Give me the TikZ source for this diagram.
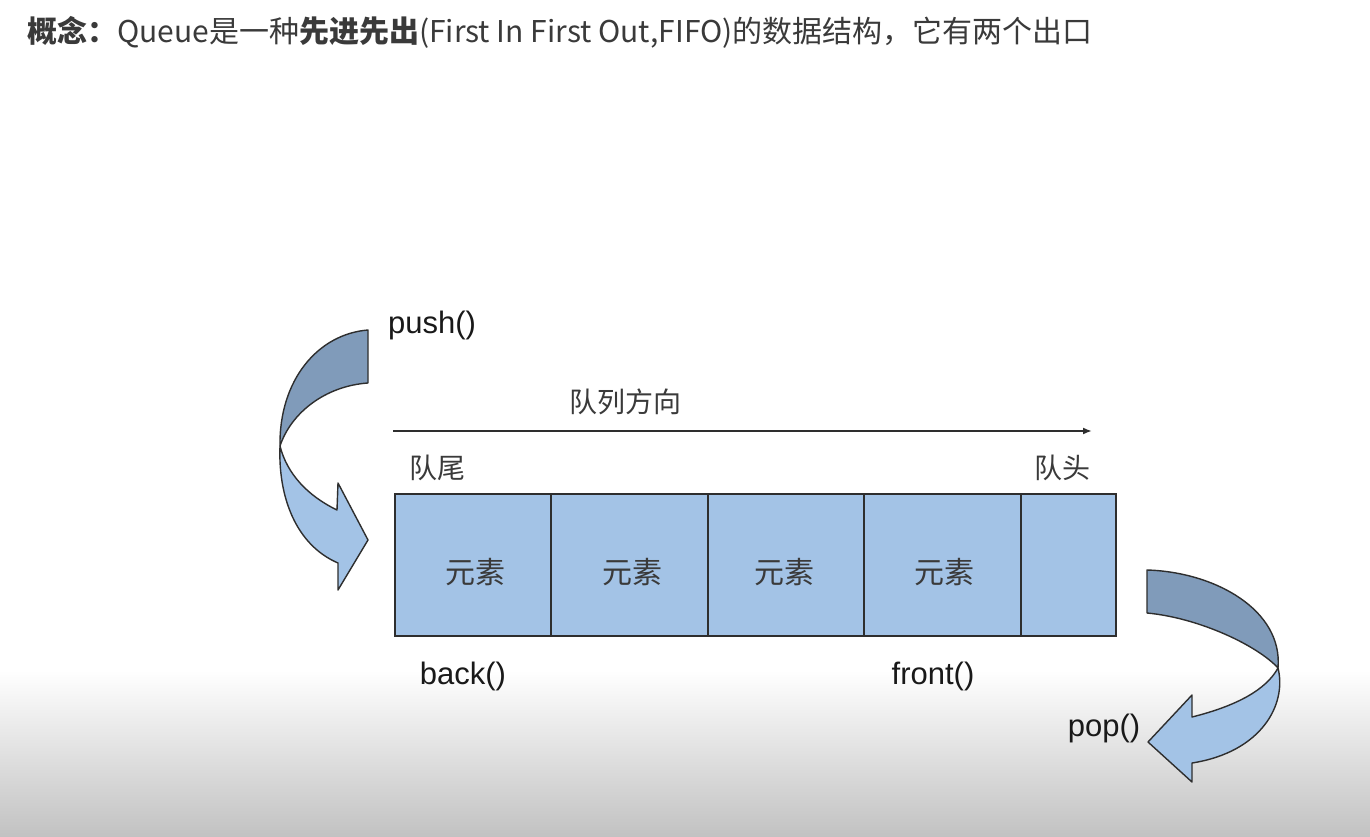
\documentclass[tikz,border=0pt]{standalone}
\usepackage{fontspec}
\setmainfont{Liberation Sans}
\newfontfamily\cjk{Noto Sans CJK SC}
\usetikzlibrary{arrows.meta}
\definecolor{cellblue}{HTML}{A3C3E6}
\definecolor{darkband}{HTML}{809BBA}
\definecolor{lightband}{HTML}{A3C3E6}
\definecolor{edge}{HTML}{2E2E2E}
\definecolor{txt}{HTML}{3A3A3A}
\tikzset{
  cell/.style={draw=edge, line width=1.6pt, fill=cellblue, anchor=north west,
    minimum height=142pt, inner sep=0pt, text=txt},
  celltext/.style={font=\cjk\fontsize{30}{32}\selectfont, text=txt, inner sep=0pt},
  band/.style={draw=edge, line width=1.4pt, line join=round},
  fn/.style={font=\fontsize{31}{33}\selectfont, text=black!90, inner sep=0pt},
  cjklabel/.style={font=\cjk\fontsize{28}{30}\selectfont, text=txt, inner sep=0pt},
}
\begin{document}
\begin{tikzpicture}[x=1pt,y=-1pt]
\useasboundingbox (0,0) rectangle (1370,837);
\fill[white] (0,0) rectangle (1370,837);
\shade[top color=white, bottom color=black!24] (0,670) rectangle (1370,837);

% title
\node[anchor=base west, inner sep=0pt, text=txt, font=\cjk\fontsize{30}{32}\selectfont] (title) at (27,43)
 {{\bfseries 概念：}Queue是一种{\bfseries 先进先出}(First In First Out,FIFO)的数据结构，它有两个出口};

% direction arrow
\coordinate (dirL) at (393,431);
\coordinate (dirR) at (1092,431);
\draw[edge, line width=1.8pt, -{Latex[length=9pt,width=7pt]}] (dirL) -- (dirR);
\node[cjklabel] (dirlab) at (625,402) {队列方向};
\node[cjklabel] (tail) at (437,468) {队尾};
\node[cjklabel] (head) at (1062,468) {队头};

% cells
\node[cell, minimum width=156pt] (c1) at (394,493) {};
\node[cell, minimum width=157pt] (c2) at (550,493) {};
\node[cell, minimum width=156pt] (c3) at (707,493) {};
\node[cell, minimum width=157pt] (c4) at (863,493) {};
\node[cell, minimum width=95pt] (c5) at (1020,493) {};
\node[celltext] (t1) at (475,572) {元素};
\node[celltext] (t2) at (632,572) {元素};
\node[celltext] (t3) at (784,572) {元素};
\node[celltext] (t4) at (944,572) {元素};

% labels
\node[fn] (push) at (432,325) {push()};
\node[fn] (back) at (463,676) {back()};
\node[fn] (front) at (933,676) {front()};
\node[fn] (pop) at (1104,728) {pop()};

% push arrow
\coordinate (C1) at (280,446);
\filldraw[band, fill=lightband] (C1) .. controls (278,497) and (296,545) .. (338,563)
  -- (338,590) -- (368,540) -- (338,483) -- (337,510)
  .. controls (308,496) and (287,474) .. (C1) -- cycle;
\filldraw[band, fill=darkband] (368,330) .. controls (318,334) and (279,380) .. (C1)
  .. controls (291,413) and (325,386) .. (368,383) -- cycle;

% pop arrow
\coordinate (C2) at (1278,668);
\filldraw[band, fill=lightband] (C2) .. controls (1287,704) and (1262,752) .. (1192,763)
  -- (1192,782) -- (1148,742) -- (1192,695) -- (1192,717)
  .. controls (1236,706) and (1266,690) .. (C2) -- cycle;
\filldraw[band, fill=darkband] (1147,570) .. controls (1215,572) and (1283,610) .. (C2)
  .. controls (1258,646) and (1200,618) .. (1147,613) -- cycle;
\end{tikzpicture}
\end{document}
